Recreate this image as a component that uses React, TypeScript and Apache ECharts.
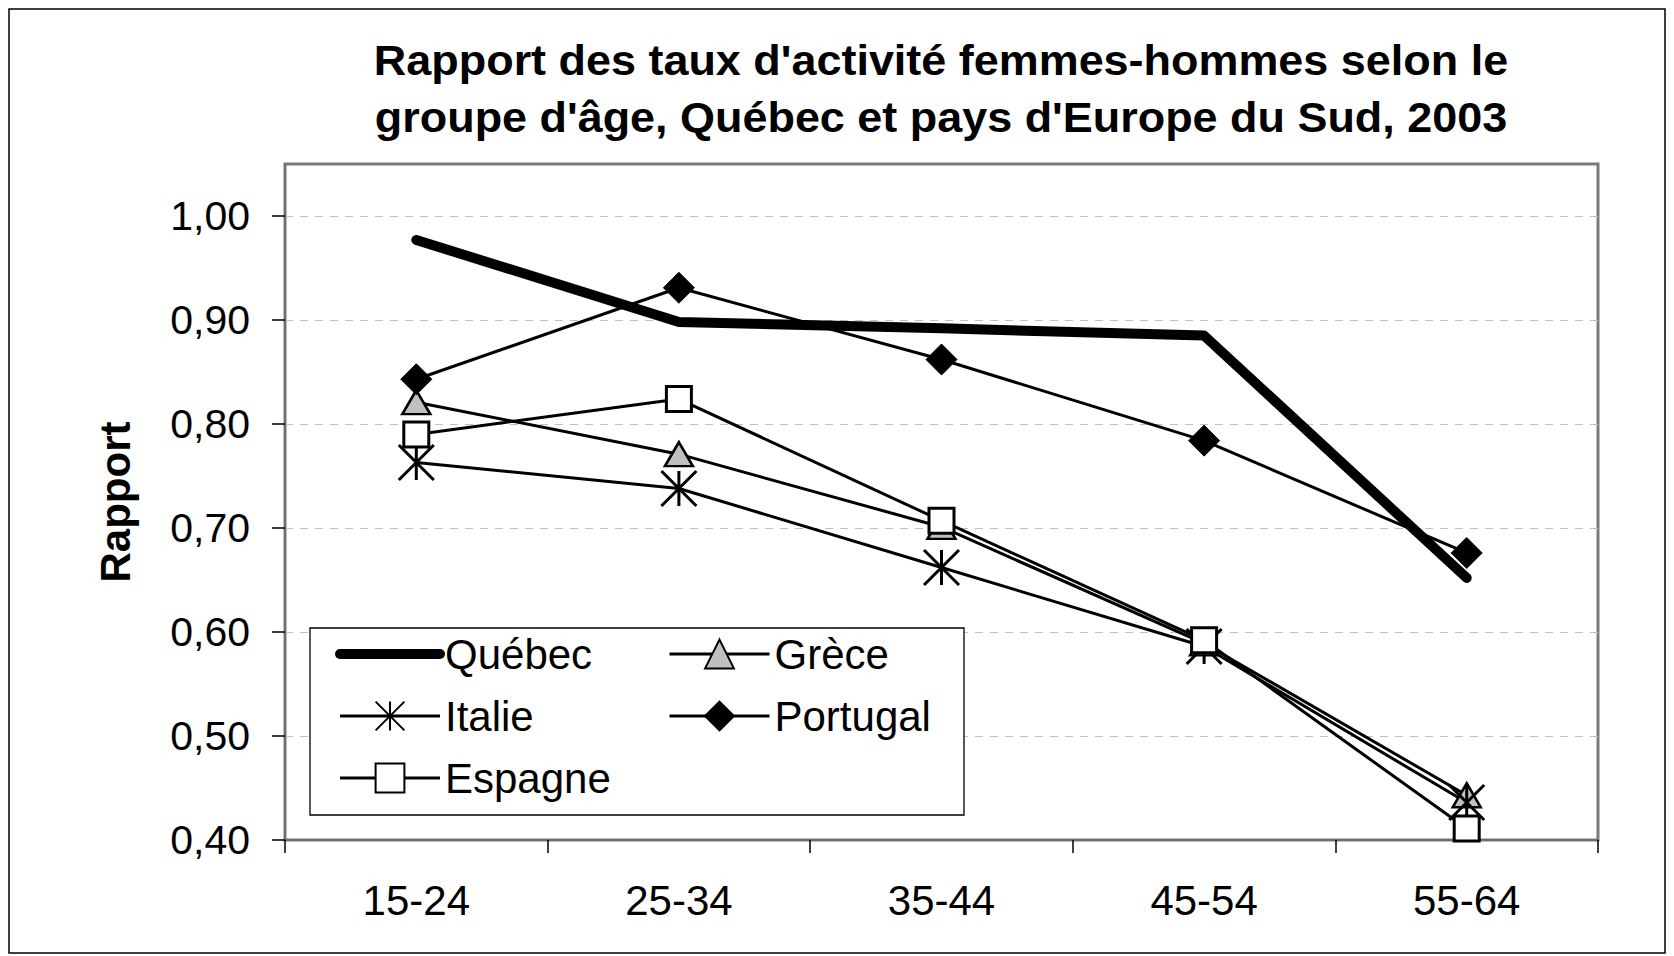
import React, { useEffect, useRef } from "react";
import * as echarts from "echarts";

const categories = ["15-24", "25-34", "35-44", "45-54", "55-64"];
const quebec = [0.977, 0.898, 0.892, 0.885, 0.652];
const grece = [0.821, 0.771, 0.701, 0.589, 0.443];
const italie = [0.763, 0.738, 0.662, 0.586, 0.436];
const portugal = [0.843, 0.931, 0.862, 0.784, 0.676];
const espagne = [0.79, 0.824, 0.707, 0.592, 0.411];
const yTicks = [0.4, 0.5, 0.6, 0.7, 0.8, 0.9, 1.0];
const titleLines = [
  "Rapport des taux d'activité femmes-hommes selon le",
  "groupe d'âge, Québec et pays d'Europe du Sud, 2003",
];
const yName = "Rapport";

const FONT = '"Liberation Sans", Arial, sans-serif';
const ASTERISK = "path://M0,0L10,10M10,0L0,10M5,0L5,10";

export default function App() {
  const ref = useRef<HTMLDivElement>(null);
  useEffect(() => {
    const chart = echarts.init(ref.current!, null, { renderer: "svg" });
    const legendText = { fontSize: 42, color: "#000", fontFamily: FONT };
    const titleStyle = { fontSize: 42, fontWeight: "bold", fontFamily: FONT, fill: "#000", align: "center", verticalAlign: "middle" };
    const option: any = {
      animation: false,
      backgroundColor: "#fff",
      grid: {
        left: 285,
        top: 164,
        right: 76,
        bottom: 116,
        show: true,
        borderColor: "#7a7a7a",
        borderWidth: 3,
        containLabel: false,
        outerBoundsMode: "none",
      },
      xAxis: {
        type: "category",
        data: categories,
        boundaryGap: true,
        axisLine: { show: true, lineStyle: { color: "#707070", width: 2 } },
        axisTick: { show: true, length: 13, alignWithLabel: false, lineStyle: { color: "#000", width: 1.5 } },
        axisLabel: { interval: 0, fontSize: 42, color: "#000", margin: 39, fontFamily: FONT },
        splitLine: { show: false },
      },
      yAxis: {
        type: "value",
        min: 0.4,
        max: 1.05,
        interval: 0.1,
        axisLine: { show: true, lineStyle: { color: "#707070", width: 2 } },
        axisTick: { show: true, length: 13, lineStyle: { color: "#000", width: 1.5 }, customValues: yTicks },
        axisLabel: {
          fontSize: 41,
          color: "#000",
          margin: 35,
          fontFamily: FONT,
          customValues: yTicks,
          formatter: (v: number) => v.toFixed(2).replace(".", ","),
        },
        splitLine: { show: true, lineStyle: { color: "#c0c0c0", width: 1.2, type: [8, 7] } },
      },
      legend: [
        {
          orient: "vertical",
          left: 335,
          top: 633,
          padding: 0,
          itemWidth: 100,
          itemHeight: 36,
          itemGap: 20,
          textStyle: legendText,
          data: [
            {
              name: "Québec",
              lineStyle: { width: 10, cap: "round" },
              itemStyle: { color: "transparent", borderColor: "transparent", borderWidth: 0, opacity: 0 },
            },
            { name: "Italie", lineStyle: { width: 3 } },
            { name: "Espagne", lineStyle: { width: 3 } },
          ],
        },
        {
          orient: "vertical",
          left: 668,
          top: 633,
          padding: 0,
          itemWidth: 100,
          itemHeight: 36,
          itemGap: 20,
          textStyle: legendText,
          data: [
            { name: "Grèce", lineStyle: { width: 3 } },
            { name: "Portugal", lineStyle: { width: 3 } },
          ],
        },
      ],
      graphic: [
        {
          type: "rect",
          z: 3,
          shape: { x: 9, y: 9, width: 1656, height: 944 },
          style: { fill: "none", stroke: "#000", lineWidth: 1.5 },
        },
        {
          type: "rect",
          z: 3,
          shape: { x: 310, y: 628, width: 654, height: 187 },
          style: { fill: "#fff", stroke: "#000", lineWidth: 1.3 },
        },
        {
          type: "text",
          x: 941,
          y: 61,
          scaleX: 1.07,
          style: { ...titleStyle, text: titleLines[0] },
        },
        {
          type: "text",
          x: 941,
          y: 118,
          scaleX: 1.07,
          style: { ...titleStyle, text: titleLines[1] },
        },
        {
          type: "text",
          x: 115,
          y: 502,
          rotation: Math.PI / 2,
          style: { ...titleStyle, text: yName },
        },
      ],
      series: [
        {
          name: "Québec",
          type: "line",
          data: quebec,
          symbol: "none",
          lineStyle: { color: "#000", width: 10, cap: "round", join: "round" },
          itemStyle: { color: "#000" },
          z: 2,
        },
        {
          name: "Grèce",
          type: "line",
          data: grece,
          symbol: "triangle",
          symbolSize: [28, 24],
          lineStyle: { color: "#000", width: 3 },
          itemStyle: { color: "#c0c0c0", borderColor: "#000", borderWidth: 2.5 },
          z: 3,
        },
        {
          name: "Italie",
          type: "line",
          data: italie,
          symbol: ASTERISK,
          symbolSize: 35,
          lineStyle: { color: "#000", width: 3 },
          itemStyle: { color: "#000", borderColor: "#000", borderWidth: 3 },
          z: 3,
        },
        {
          name: "Portugal",
          type: "line",
          data: portugal,
          symbol: "diamond",
          symbolSize: 31,
          lineStyle: { color: "#000", width: 3 },
          itemStyle: { color: "#000", borderColor: "#000", borderWidth: 1 },
          z: 3,
        },
        {
          name: "Espagne",
          type: "line",
          data: espagne,
          symbol: "rect",
          symbolSize: 25,
          lineStyle: { color: "#000", width: 3 },
          itemStyle: { color: "#fff", borderColor: "#000", borderWidth: 3 },
          z: 3,
        },
      ],
    };
    chart.setOption(option);
    return () => chart.dispose();
  }, []);
  return (
    <div
      ref={ref}
      style={{ position: "fixed", left: 0, top: 0, width: 1674, height: 956, background: "#fff" }}
    />
  );
}
